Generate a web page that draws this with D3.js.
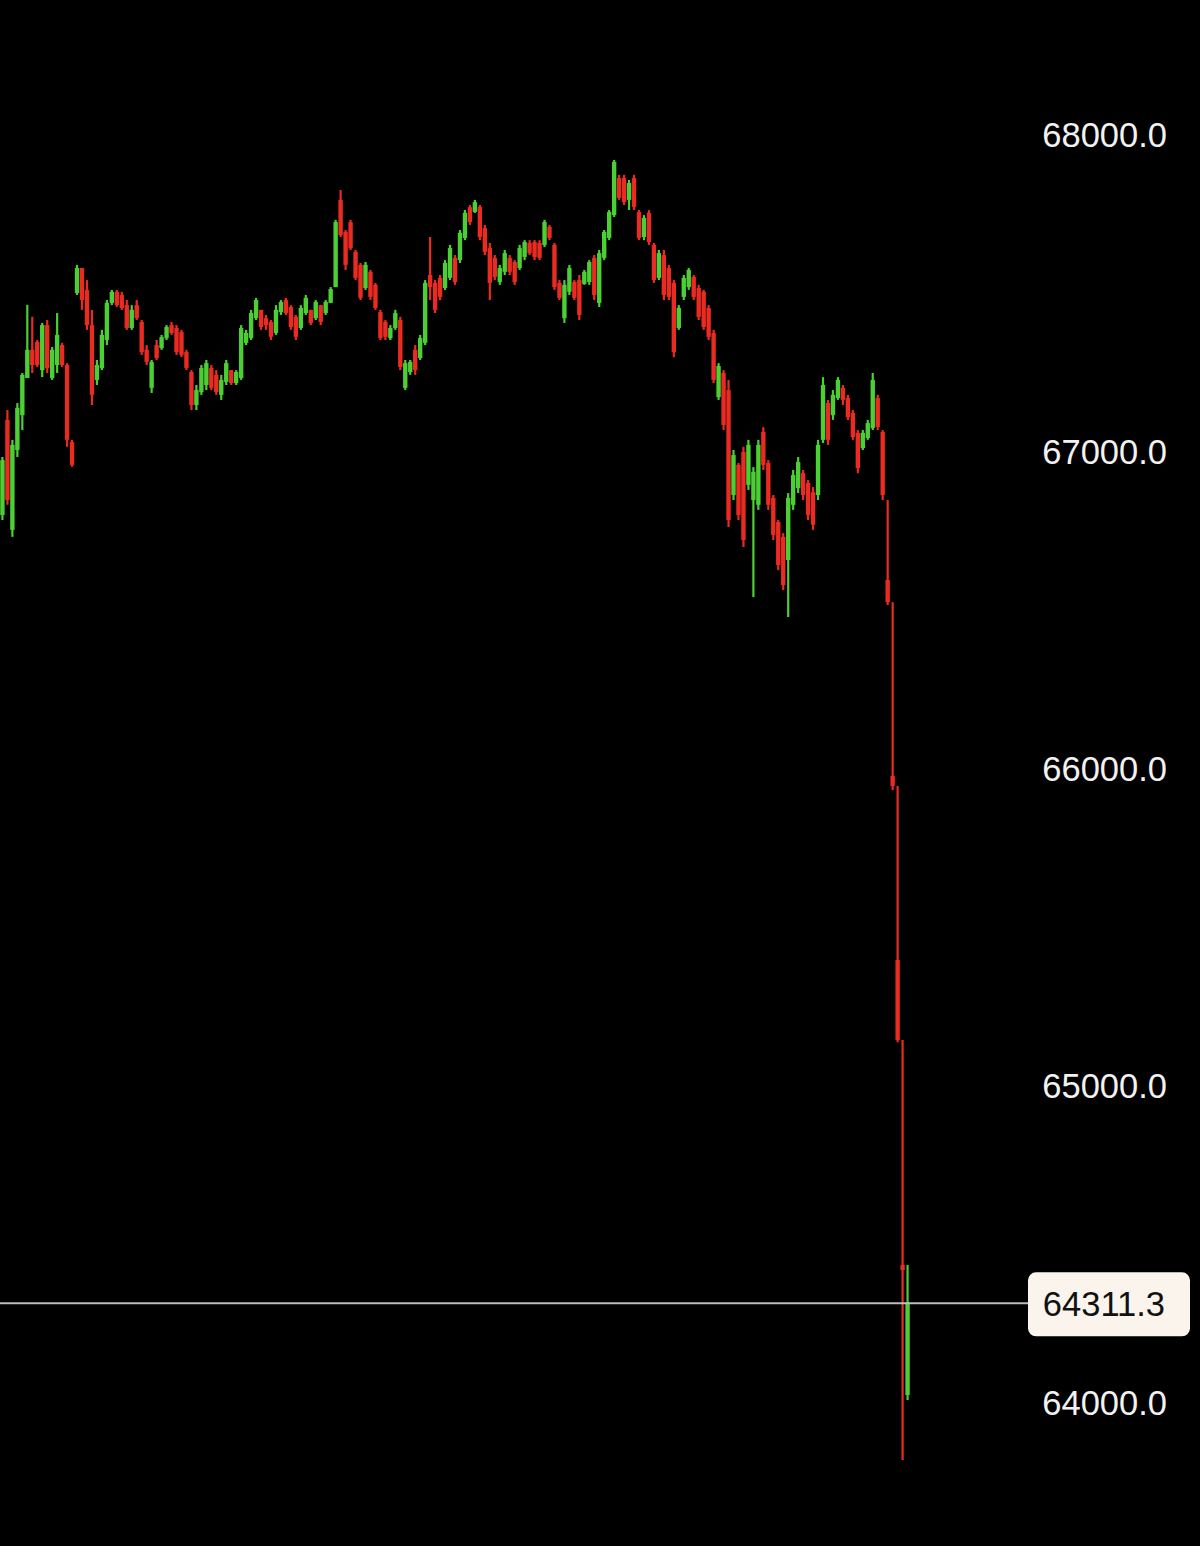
<!DOCTYPE html>
<html>
<head>
<meta charset="utf-8">
<script src="https://cdn.jsdelivr.net/npm/d3@7"></script>
<style>
  html, body { margin: 0; padding: 0; background: #000; }
  svg { display: block; }
</style>
</head>
<body>
<div id="chart"></div>
<script>
// Candle data (price units).
var opens = [
  66795, 67095, 66748, 67000, 67110, 67227, 67316, 67341, 67252, 67394,
  67227, 67268, 67331, 67268, 67025, 67495, 67574, 67505, 67394, 67221,
  67258, 67347, 67464, 67499, 67489, 67457, 67385, 67457, 67404, 67316,
  67196, 67331, 67322, 67353, 67394, 67385, 67372, 67309, 67246, 67142,
  67183, 67205, 67259, 67237, 67174, 67215, 67252, 67211, 67227, 67338,
  67353, 67416, 67442, 67416, 67404, 67369, 67435, 67473, 67451, 67420,
  67385, 67432, 67442, 67416, 67457, 67432, 67464, 67514, 67789, 67688,
  67719, 67625, 67584, 67511, 67562, 67521, 67435, 67404, 67353, 67385,
  67410, 67196, 67246, 67316, 67290, 67338, 67552, 67527, 67543, 67511,
  67543, 67606, 67599, 67669, 67766, 67751, 67767, 67700, 67637, 67606,
  67530, 67562, 67606, 67593, 67574, 67609, 67653, 67656, 67653, 67647,
  67704, 67647, 67527, 67416, 67499, 67530, 67536, 67524, 67530, 67606,
  67464, 67606, 67669, 67741, 67858, 67858, 67789, 67858, 67751, 67672,
  67748, 67647, 67543, 67615, 67574, 67527, 67385, 67483, 67514, 67546,
  67511, 67499, 67448, 67369, 67167, 67243, 67189, 66858, 66953, 66994,
  66890, 66842, 66827, 67057, 66959, 66849, 66773, 66726, 66653, 66827,
  66880, 66927, 66896, 66867, 66858, 67032, 67148, 67110, 67164, 67196,
  67164, 67117, 67054, 67006, 67038, 67069, 67164, 67057, 66590, 65972,
  65391, 64429, 64019
];
var highs = [
  66978, 67126, 67032, 67148, 67243, 67458, 67420, 67347, 67401, 67410,
  67325, 67432, 67338, 67274, 67032, 67584, 67574, 67536, 67442, 67284,
  67379, 67473, 67505, 67505, 67499, 67473, 67457, 67473, 67410, 67331,
  67284, 67347, 67363, 67394, 67404, 67394, 67379, 67316, 67252, 67205,
  67268, 67284, 67268, 67252, 67237, 67284, 67252, 67252, 67394, 67379,
  67442, 67480, 67442, 67426, 67410, 67457, 67473, 67480, 67457, 67426,
  67457, 67489, 67442, 67473, 67457, 67473, 67514, 67726, 67820, 67694,
  67726, 67631, 67590, 67593, 67568, 67527, 67442, 67410, 67394, 67442,
  67420, 67284, 67284, 67331, 67363, 67536, 67672, 67536, 67552, 67599,
  67647, 67615, 67694, 67757, 67773, 67789, 67773, 67710, 67653, 67615,
  67584, 67631, 67615, 67599, 67647, 67662, 67662, 67662, 67662, 67726,
  67710, 67653, 67536, 67536, 67584, 67536, 67552, 67568, 67599, 67615,
  67631, 67694, 67757, 67915, 67868, 67868, 67852, 67868, 67757, 67741,
  67757, 67653, 67631, 67631, 67584, 67536, 67457, 67552, 67574, 67552,
  67521, 67505, 67457, 67379, 67274, 67252, 67221, 67000, 66959, 67010,
  67032, 66946, 67032, 67072, 66968, 66858, 66779, 66738, 66864, 66937,
  66978, 66937, 66905, 66883, 67032, 67230, 67158, 67189, 67230, 67205,
  67174, 67126, 67063, 67063, 67095, 67243, 67174, 67063, 66842, 66520,
  65940, 65139, 64429
];
var lows = [
  66779, 66827, 66726, 66978, 67063, 67227, 67243, 67262, 67230, 67243,
  67221, 67243, 67262, 67010, 66947, 67489, 67442, 67379, 67142, 67205,
  67252, 67331, 67457, 67451, 67442, 67379, 67379, 67410, 67300, 67268,
  67180, 67284, 67316, 67347, 67363, 67300, 67293, 67252, 67126, 67126,
  67174, 67189, 67189, 67174, 67158, 67205, 67205, 67205, 67221, 67331,
  67347, 67410, 67379, 67379, 67347, 67363, 67426, 67426, 67379, 67347,
  67379, 67426, 67394, 67410, 67394, 67426, 67464, 67514, 67672, 67568,
  67631, 67536, 67473, 67505, 67473, 67442, 67347, 67347, 67347, 67379,
  67252, 67189, 67237, 67237, 67284, 67331, 67473, 67432, 67473, 67505,
  67536, 67521, 67590, 67662, 67710, 67748, 67662, 67615, 67473, 67536,
  67521, 67552, 67552, 67521, 67568, 67599, 67615, 67599, 67599, 67640,
  67662, 67505, 67473, 67401, 67489, 67473, 67410, 67521, 67521, 67473,
  67451, 67599, 67662, 67735, 67789, 67773, 67757, 67757, 67662, 67662,
  67647, 67527, 67536, 67473, 67473, 67293, 67379, 67473, 67505, 67473,
  67410, 67379, 67347, 67211, 67158, 67063, 66757, 66842, 66779, 66694,
  66874, 66536, 66811, 66937, 66811, 66716, 66621, 66558, 66473, 66811,
  66864, 66842, 66779, 66748, 66842, 67022, 67016, 67095, 67158, 67142,
  67095, 67032, 66927, 67000, 67032, 67063, 67063, 66842, 66511, 65927,
  65132, 63814, 64003
];
var closes = [
  66968, 66842, 67016, 67133, 67237, 67316, 67268, 67268, 67394, 67258,
  67316, 67363, 67268, 67032, 66953, 67574, 67473, 67394, 67174, 67268,
  67363, 67464, 67499, 67457, 67448, 67385, 67442, 67416, 67309, 67278,
  67278, 67290, 67356, 67388, 67369, 67309, 67300, 67259, 67142, 67189,
  67259, 67274, 67196, 67183, 67221, 67274, 67211, 67246, 67385, 67369,
  67432, 67473, 67388, 67394, 67357, 67442, 67467, 67432, 67388, 67357,
  67448, 67480, 67401, 67467, 67404, 67467, 67508, 67719, 67678, 67584,
  67637, 67543, 67480, 67584, 67483, 67448, 67353, 67357, 67385, 67432,
  67262, 67274, 67278, 67252, 67353, 67527, 67514, 67442, 67483, 67590,
  67637, 67530, 67685, 67748, 67719, 67782, 67672, 67625, 67527, 67546,
  67574, 67621, 67562, 67530, 67637, 67656, 67621, 67609, 67606, 67719,
  67669, 67514, 67480, 67521, 67574, 67480, 67426, 67562, 67593, 67489,
  67621, 67688, 67751, 67909, 67795, 67782, 67842, 67767, 67669, 67732,
  67656, 67536, 67621, 67489, 67483, 67309, 67448, 67543, 67568, 67483,
  67420, 67388, 67357, 67221, 67265, 67079, 66779, 66984, 66795, 66716,
  67016, 66931, 67016, 66953, 66827, 66732, 66637, 66574, 66849, 66921,
  66962, 66858, 66795, 66764, 67016, 67205, 67032, 67174, 67221, 67158,
  67104, 67041, 66943, 67054, 67085, 67221, 67073, 66858, 66520, 65940,
  65139, 64413, 64311.3
];
// Price axis labels.
var priceTicks = [64000, 65000, 66000, 67000, 68000];

(function() {
  'use strict';

  var width  = 1200;
  var height = 1546;

  var upColor   = '#4ccf35';
  var downColor = '#ea2b22';

  var candles = closes.map(function(c, i) {
    return { i: i, open: opens[i], high: highs[i], low: lows[i], close: c };
  });

  var svg = d3.select('#chart')
              .append('svg')
              .attr('width', width)
              .attr('height', height)
              .style('background', '#000');

  // Horizontal: one band per candle.
  var x = d3.scaleBand()
            .domain(d3.range(candles.length))
            .range([0, 910])
            .paddingInner(0.12)
            .paddingOuter(0.05);

  // Vertical: price.
  var y = d3.scaleLinear()
            .domain([64000, 68000])
            .range([1401, 133]);

  function colorOf(d) { return d.close >= d.open ? upColor : downColor; }

  var g = svg.append('g');

  // Wicks.
  g.selectAll('line.wick')
   .data(candles).enter().append('line')
   .attr('class', 'wick')
   .attr('x1', function(d) { return x(d.i) + x.bandwidth() / 2; })
   .attr('x2', function(d) { return x(d.i) + x.bandwidth() / 2; })
   .attr('y1', function(d) { return y(d.high); })
   .attr('y2', function(d) { return y(d.low); })
   .style('stroke', colorOf)
   .style('stroke-width', 2.2);

  // Bodies.
  g.selectAll('rect.body')
   .data(candles).enter().append('rect')
   .attr('class', 'body')
   .attr('x', function(d) { return x(d.i); })
   .attr('width', x.bandwidth())
   .attr('y', function(d) { return y(Math.max(d.open, d.close)); })
   .attr('height', function(d) {
     return Math.max(1.5, Math.abs(y(d.open) - y(d.close)));
   })
   .style('fill', colorOf);

  // Right price axis (labels only, no line).
  var fmt = d3.format('.1f');
  var axis = d3.axisRight(y)
               .tickValues(priceTicks)
               .tickFormat(fmt)
               .tickSize(0)
               .tickPadding(0);

  var ax = svg.append('g')
              .attr('transform', 'translate(1167,2)')
              .call(axis);
  ax.select('.domain').remove();
  ax.selectAll('text')
    .attr('text-anchor', 'end')
    .style('font-family', '"Liberation Sans", Arial, sans-serif')
    .style('font-size', '34.5px')
    .style('fill', '#f2f2f2');

  // Last price line + badge.
  var last = candles[candles.length - 1];
  var ly = y(last.close);

  svg.append('line')
     .attr('x1', 0)
     .attr('x2', 1028)
     .attr('y1', ly + 1)
     .attr('y2', ly + 1)
     .style('stroke', '#bdbdbd')
     .style('stroke-width', 2);

  svg.append('rect')
     .attr('x', 1028)
     .attr('y', ly - 30)
     .attr('width', 162)
     .attr('height', 64)
     .attr('rx', 8)
     .style('fill', '#fbf4ec');

  svg.append('text')
     .attr('x', 1165)
     .attr('y', ly + 2)
     .attr('dy', '0.35em')
     .attr('text-anchor', 'end')
     .style('font-family', '"Liberation Sans", Arial, sans-serif')
     .style('font-size', '34.5px')
     .style('fill', '#111')
     .text(fmt(last.close));
})();
</script>
</body>
</html>
